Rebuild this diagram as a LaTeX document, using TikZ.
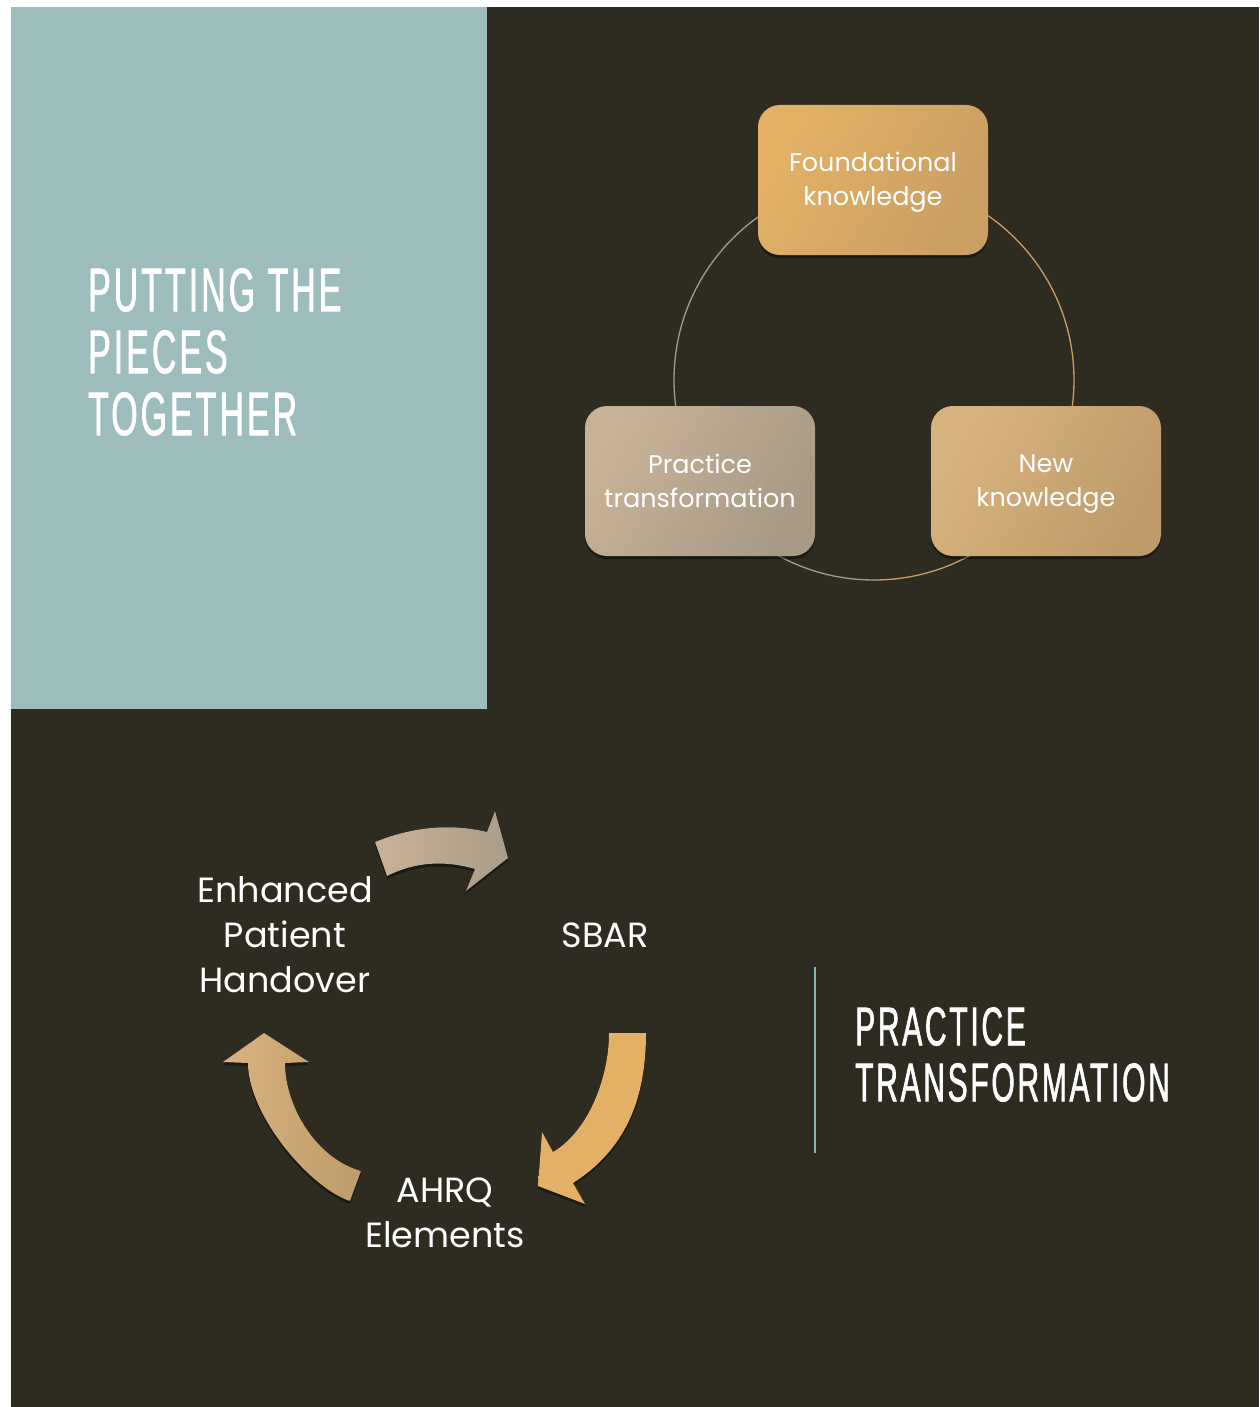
\documentclass[tikz,border=0pt]{standalone}
\usepackage{fontspec}
\setmainfont{Poppins}
\newfontfamily\headfont{Liberation Sans}[FakeStretch=0.55,LetterSpace=5,FakeBold=1.2]
\usetikzlibrary{shadows}

\definecolor{slidebg}{HTML}{2E2B21}
\definecolor{panelteal}{HTML}{9DBDBC}
\definecolor{ruleteal}{HTML}{8DB3B4}
\definecolor{goldA}{HTML}{E4B166}
\definecolor{goldB}{HTML}{C99F62}
\definecolor{sandA}{HTML}{C8B297}
\definecolor{sandB}{HTML}{A79A86}
\definecolor{tanA}{HTML}{D8B37F}
\definecolor{tanB}{HTML}{BE9B6B}
\definecolor{ringL}{HTML}{A89C88}
\definecolor{ringR}{HTML}{C9A064}

\tikzset{
  heading/.style={anchor=north west, inner sep=0pt, text=white, align=left,
    font=\headfont\fontsize{61.5}{62}\selectfont},
  subheading/.style={anchor=north west, inner sep=0pt, text=white, align=left,
    font=\headfont\fontsize{54.5}{56}\selectfont},
  stagebox/.style={rounded corners=22pt, minimum width=230pt, minimum height=150pt,
    inner sep=0pt, shading angle=60,
    drop shadow={shadow xshift=0pt, shadow yshift=-3pt, opacity=0.4, fill=black}},
  stagetext/.style={text=white, align=center, inner sep=0pt,
    font=\fontsize{25.5}{34}\selectfont},
  cyclelabel/.style={text=white, align=center, inner sep=0pt,
    font=\fontsize{35}{45}\selectfont},
  blockarrow/.style={drop shadow={shadow xshift=0pt, shadow yshift=-3pt, opacity=0.4, fill=black}},
}

\begin{document}
\begin{tikzpicture}[x=1pt,y=-1pt]
\useasboundingbox (0,0) rectangle (1259,1407);
\fill[white] (0,0) rectangle (1259,1407);
\fill[slidebg] (11,7) rectangle (1259,1407);
\fill[panelteal] (11,7) rectangle (487,709);

% slide titles
\node[heading] (title) at (88,268) {PUTTING THE\\PIECES\\TOGETHER};
\node[subheading] (subtitle) at (855,1007) {PRACTICE\\TRANSFORMATION};
\coordinate (ruletop) at (815,967);
\coordinate (rulebot) at (815,1153);
\draw[ruleteal, line width=2pt] (ruletop) -- (rulebot);

% ring behind the three stages
\draw[ringL, line width=1.3pt] (874,180) arc[start angle=270, end angle=90, radius=200];
\draw[ringR, line width=1.3pt] (874,180) arc[start angle=270, end angle=450, radius=200];

% the three stages
\node[stagebox, left color=goldA, right color=goldB, shading angle=60] (found) at (873,180) {};
\node[stagebox, left color=sandA, right color=sandB, shading angle=60] (practice) at (700,481) {};
\node[stagebox, left color=tanA, right color=tanB, shading angle=60] (newk) at (1046,481) {};
\node[stagetext] (foundtext) at ([yshift=-2pt]found.center) {Foundational\\knowledge};
\node[stagetext] (practicetext) at (practice.center) {Practice\\transformation};
\node[stagetext] (newktext) at ([yshift=-3pt]newk.center) {New\\knowledge};

% cycle of block arrows
\fill[blockarrow, left color=sandA, right color=sandB!90!sandA]
  (375,842) .. controls (412,827) and (450,823) .. (487,832)
  -- (495,811) -- (508,858) -- (466,891) -- (475,869)
  .. controls (444,860) and (415,862) .. (387,876) -- cycle;
\fill[blockarrow, left color=goldA!95!tanB, right color=goldA]
  (609,1033) -- (646,1033)
  .. controls (646,1100) and (625,1150) .. (573,1183)
  -- (585,1204) -- (538,1186) -- (542,1132) -- (553,1152)
  .. controls (590,1130) and (609,1075) .. (609,1033) -- cycle;
\fill[blockarrow, left color=tanA, right color=tanB]
  (350,1201) .. controls (310,1188) and (248,1115) .. (248,1063)
  -- (223,1062) -- (264,1033) -- (309,1062) -- (285,1063)
  .. controls (285,1105) and (315,1158) .. (361,1171) -- cycle;

% cycle labels
\node[cyclelabel] (eph) at (285,935) {Enhanced\\Patient\\Handover};
\node[cyclelabel] (sbar) at (605,935) {SBAR};
\node[cyclelabel] (ahrq) at (445,1213) {AHRQ\\Elements};
\end{tikzpicture}
\end{document}
